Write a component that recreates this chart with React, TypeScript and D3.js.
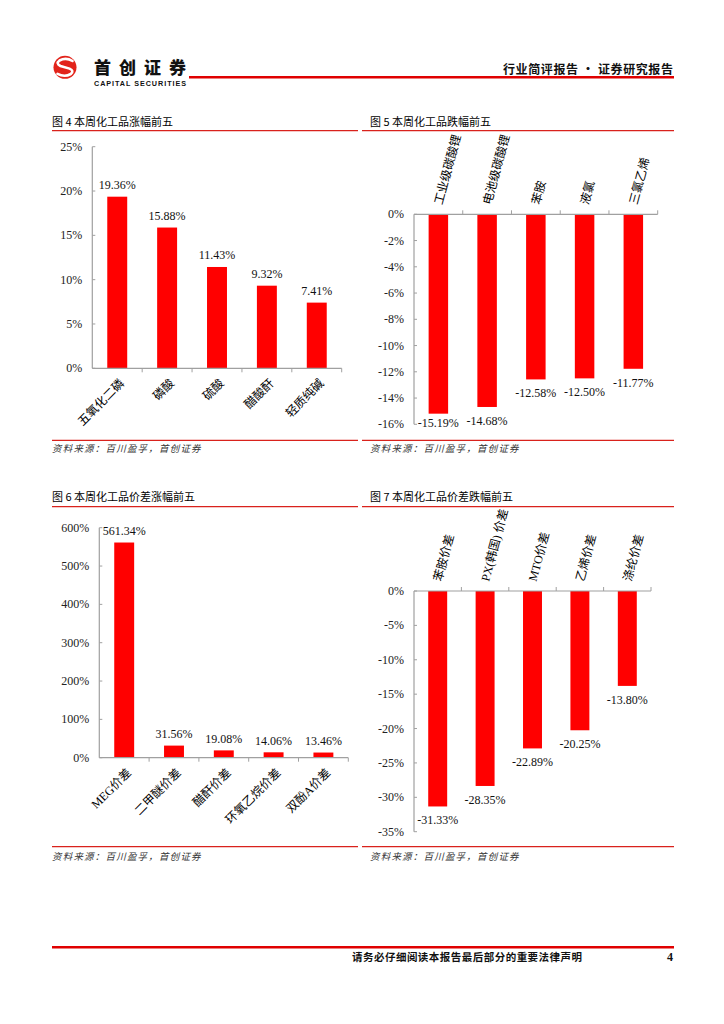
import React from 'react';
import * as d3 from 'd3';

// ---- Data ----
const fig4Categories = ['五氧化二磷', '磷酸', '硫酸', '醋酸酐', '轻质纯碱'];
const fig4Values = [19.36, 15.88, 11.43, 9.32, 7.41];
const fig4Ticks = [0, 5, 10, 15, 20, 25];

const fig5Categories = ['工业级碳酸锂', '电池级碳酸锂', '苯胺', '液氯', '三氯乙烯'];
const fig5Values = [-15.19, -14.68, -12.58, -12.5, -11.77];
const fig5Ticks = [0, -2, -4, -6, -8, -10, -12, -14, -16];

const fig6Categories = ['MEG价差', '二甲醚价差', '醋酐价差', '环氧乙烷价差', '双酚A价差'];
const fig6Values = [561.34, 31.56, 19.08, 14.06, 13.46];
const fig6Ticks = [0, 100, 200, 300, 400, 500, 600];

const fig7Categories = ['苯胺价差', 'PX(韩国) 价差', 'MTO价差', '乙烯价差', '涤纶价差'];
const fig7Values = [-31.33, -28.35, -22.89, -20.25, -13.8];
const fig7Ticks = [0, -5, -10, -15, -20, -25, -30, -35];

const SERIF = '"Liberation Serif", "Times New Roman", serif';
const CJK = '"Noto Sans CJK SC", sans-serif';
const LABEL_FONT = '"Liberation Serif", "Noto Sans CJK SC", serif';
const RED_LINE = '#d9221c';
const AXIS = '#a0a0a0';

type PanelProps = {
  title: string;
  categories: string[];
  values: number[];
  ticks: number[];
  domain: [number, number];
  left: number;
  right: number;
  top: number;
  bottom: number;
  titleX: number;
  titleY: number;
  lineX1: number;
  lineX2: number;
  lineY: number;
  srcLineY: number;
  srcY: number;
  negative: boolean;
};

function Panel(p: PanelProps) {
  const y = d3.scaleLinear().domain(p.domain).range([p.bottom, p.top]);
  const x = d3
    .scaleBand<string>()
    .domain(p.categories)
    .range([p.left, p.right])
    .paddingInner(0.6)
    .paddingOuter(0.3);
  const zero = y(0);
  const step = x.step();
  const bw = x.bandwidth();
  const fmtTick = (v: number) => `${v}%`;
  const fmtVal = (v: number) => `${v.toFixed(2)}%`;
  return (
    <g>
      <text x={p.titleX} y={p.titleY} fontFamily={CJK} fontSize={11} fill="#000" dominantBaseline="central">
        {p.title}
      </text>
      <line x1={p.lineX1} x2={p.lineX2} y1={p.lineY} y2={p.lineY} stroke={RED_LINE} strokeWidth={1.3} />
      {/* y axis */}
      <line x1={p.left} x2={p.left} y1={p.top} y2={p.bottom} stroke={AXIS} strokeWidth={1.2} />
      {p.ticks.map((t) => (
        <g key={t}>
          <line x1={p.left} x2={p.left + 3} y1={y(t)} y2={y(t)} stroke={AXIS} strokeWidth={1} />
          <text
            x={p.left - 10}
            y={y(t)}
            textAnchor="end"
            dominantBaseline="central"
            fontFamily={SERIF}
            fontSize={12}
            fill="#222"
          >
            {fmtTick(t)}
          </text>
        </g>
      ))}
      {/* bars */}
      {p.categories.map((c, i) => {
        const v = p.values[i];
        const y0 = Math.min(y(v), zero);
        const h = Math.abs(y(v) - zero);
        return <rect key={c} x={x(c)!} y={y0} width={bw} height={h} fill="#ff0000" />;
      })}
      {/* x axis */}
      <line x1={p.left} x2={p.right} y1={zero} y2={zero} stroke={AXIS} strokeWidth={1.2} />
      {p.categories.map((c, i) => {
        const tx = p.left + (i + 1) * step;
        return (
          <line
            key={'t' + c}
            x1={tx}
            x2={tx}
            y1={zero}
            y2={p.negative ? zero - 4 : zero + 4}
            stroke={AXIS}
            strokeWidth={1}
          />
        );
      })}
      {/* value labels */}
      {p.categories.map((c, i) => {
        const v = p.values[i];
        const cx = x(c)! + bw / 2;
        const ly = p.negative ? Math.min(y(v) + 14, p.bottom - 1.6) : y(v) - 11.5;
        return (
          <text
            key={'v' + c}
            x={cx}
            y={ly}
            textAnchor="middle"
            dominantBaseline="central"
            fontFamily={SERIF}
            fontSize={12}
            fill="#111"
          >
            {fmtVal(v)}
          </text>
        );
      })}
      {/* category labels */}
      {p.categories.map((c) => {
        const cx = x(c)! + bw / 2;
        const tr = p.negative
          ? `translate(${cx},${zero - 10}) rotate(-75)`
          : `translate(${cx + 5},${zero + 13}) rotate(-45)`;
        return (
          <text
            key={'c' + c}
            transform={tr}
            textAnchor={p.negative ? 'start' : 'end'}
            dominantBaseline="central"
            fontFamily={LABEL_FONT}
            fontSize={12}
            fill="#000"
          >
            {c}
          </text>
        );
      })}
      {/* source */}
      <line x1={p.lineX1} x2={p.lineX2} y1={p.srcLineY} y2={p.srcLineY} stroke={RED_LINE} strokeWidth={1.3} />
      <text
        x={p.titleX}
        y={p.srcY}
        fontFamily={CJK}
        fontSize={9.5}
        fontStyle="italic"
        fill="#333"
        letterSpacing={1.2}
        dominantBaseline="central"
      >
        资料来源：百川盈孚，首创证券
      </text>
    </g>
  );
}

export default function App() {
  return (
    <svg
      width={724}
      height={1024}
      viewBox="0 0 724 1024"
      style={{ position: 'absolute', left: 0, top: 0, background: '#fff' }}
    >
      <rect width={724} height={1024} fill="#fff" />
      {/* Header logo */}
      <circle cx={65} cy={67.3} r={11.5} fill="#e2231a" />
      <path
        d="M72.5 61 Q66 57 59.5 60.5 Q55.5 63.5 60.5 66 L69.5 68.6 Q74.5 70.8 70.8 74 Q64.5 77.5 57.5 73.8"
        fill="none"
        stroke="#fff"
        strokeWidth={2.6}
        strokeLinecap="round"
      />
      <text x={94} y={66.5} fontFamily={CJK} fontWeight={900} fontSize={17} fill="#111" textLength={92} lengthAdjust="spacing" dominantBaseline="central">
        首创证券
      </text>
      <text x={94} y={83.5} fontFamily='"Liberation Sans", Arial, sans-serif' fontWeight={700} fontSize={7.2} fill="#111" textLength={92} lengthAdjust="spacing" dominantBaseline="central">
        CAPITAL SECURITIES
      </text>
      <line x1={189} x2={674} y1={77.3} y2={77.3} stroke="#e00000" strokeWidth={2.4} />
      <text x={673} y={68.3} textAnchor="end" fontFamily={CJK} fontWeight={700} fontSize={12} fill="#111" textLength={170} lengthAdjust="spacing" dominantBaseline="central">
        行业简评报告 · 证券研究报告
      </text>

      <Panel
        title="图 4 本周化工品涨幅前五"
        categories={fig4Categories}
        values={fig4Values}
        ticks={fig4Ticks}
        domain={[0, 25]}
        left={92.3}
        right={341.7}
        top={146.7}
        bottom={368.3}
        titleX={52}
        titleY={120.7}
        lineX1={52}
        lineX2={358}
        lineY={130.7}
        srcLineY={440.3}
        srcY={448.3}
        negative={false}
      />
      <Panel
        title="图 5 本周化工品跌幅前五"
        categories={fig5Categories}
        values={fig5Values}
        ticks={fig5Ticks}
        domain={[-16, 0]}
        left={414}
        right={657.7}
        top={214.3}
        bottom={424.3}
        titleX={370}
        titleY={120.7}
        lineX1={362}
        lineX2={674}
        lineY={130.7}
        srcLineY={440.3}
        srcY={448.3}
        negative={true}
      />
      <Panel
        title="图 6 本周化工品价差涨幅前五"
        categories={fig6Categories}
        values={fig6Values}
        ticks={fig6Ticks}
        domain={[0, 600]}
        left={99.3}
        right={348.3}
        top={527.7}
        bottom={757.7}
        titleX={52}
        titleY={496}
        lineX1={52}
        lineX2={358}
        lineY={506.7}
        srcLineY={846.7}
        srcY={856}
        negative={false}
      />
      <Panel
        title="图 7 本周化工品价差跌幅前五"
        categories={fig7Categories}
        values={fig7Values}
        ticks={fig7Ticks}
        domain={[-35, 0]}
        left={414}
        right={651}
        top={591}
        bottom={831.7}
        titleX={370}
        titleY={496}
        lineX1={362}
        lineX2={674}
        lineY={506.7}
        srcLineY={846.7}
        srcY={856}
        negative={true}
      />

      {/* Footer */}
      <line x1={52} x2={674} y1={947.3} y2={947.3} stroke="#e00000" strokeWidth={2.4} />
      <text x={352} y={956.7} fontFamily={CJK} fontWeight={700} fontSize={10.5} fill="#111" textLength={230} lengthAdjust="spacing" dominantBaseline="central">
        请务必仔细阅读本报告最后部分的重要法律声明
      </text>
      <text x={673} y={957} textAnchor="end" fontFamily={SERIF} fontWeight={700} fontSize={12} fill="#111" dominantBaseline="central">
        4
      </text>
    </svg>
  );
}
